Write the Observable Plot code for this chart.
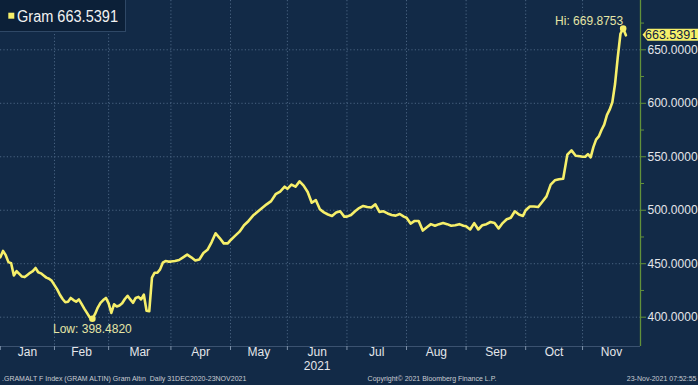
<!DOCTYPE html>
<html>
<head>
<meta charset="utf-8">
<script src="https://cdn.jsdelivr.net/npm/d3@7"></script>
<script src="https://cdn.jsdelivr.net/npm/@observablehq/plot@0.6"></script>
<style>
  html, body { margin: 0; padding: 0; background: #122a47; }
  #chart { width: 698px; height: 385px; overflow: hidden; }
  svg { display: block; }
</style>
</head>
<body>
<div id="chart"></div>
<script>
const seriesName = "Gram";
const lastValue = 663.5391;
const holidays = ["2021-01-01"];
const monthLabels = ["Jan", "Feb", "Mar", "Apr", "May", "Jun", "Jul", "Aug", "Sep", "Oct", "Nov"];
const yearLabel = "2021";
const yTicks = [400, 450, 500, 550, 600, 650];
const yMinorTicks = [425, 475, 525, 575, 625, 675];

const jan = [455, 456, 462, 458, 451.5, 450.5, 439, 443, 440.5, 438, 437.5, 439.5, 441.5, 443, 446, 442, 441, 439, 437, 436, 434];
const feb = [430, 426, 421, 417, 414, 414.5, 418, 416, 414.5, 416.6, 412.5, 408, 404, 400, 398.482, 403, 409, 413.4, 416, 418];
const mar = [413, 404, 412, 410, 411, 413, 417, 420, 416.6, 413.5, 418, 419, 416.6, 421, 406, 405.6, 437, 441.6, 441.6, 444.7, 451, 452.5, 452];
const apr = [452, 452.5, 453.5, 456, 458.5, 456, 453, 454, 460, 463, 470, 478.5, 474, 469, 469];
const may = [472, 476, 480, 486, 490, 495, 498.5, 502, 505.5, 508.5, 515, 517.5, 522];
const jun = [520, 524, 522, 527, 523, 517, 507, 509.5, 501, 498, 496, 494.7, 497.8, 499, 494];
const jul = [494, 495.5, 499, 502, 504, 503, 502.5, 505.5, 498.5, 499, 497, 495.5, 495, 496.5, 494];
const aug = [493, 487.5, 490, 490, 481, 484, 487, 485.5, 487, 488, 487, 485.5, 486, 487, 485.5];
const sep = [485, 482, 488, 482, 486, 487, 489, 488, 483, 488, 491.6, 493, 499, 496, 494.7];
const oct = [500, 503.5, 503.5, 503, 508, 513, 524, 528, 529, 529.5, 552, 556, 551, 550.5];
const nov = [550, 550, 552.5, 549.5, 559, 566, 569, 575, 580, 589, 594, 601, 618, 643, 665, 669.8753, 663.5391];
const monthly = [jan, feb, mar, apr, may, jun, jul, aug, sep, oct, nov];

const footerLeft = ".GRAMALT F Index (GRAM ALTIN) Gram Altın  Daily 31DEC2020-23NOV2021";
const footerMid = "Copyright\u00A9 2021 Bloomberg Finance L.P.";
const footerRight = "23-Nov-2021 07:52:55";

// ---- trading-day axis ----
const tradingDays = [];
for (let t = Date.UTC(2020, 11, 31); t <= Date.UTC(2021, 10, 23); t += 864e5) {
  const d = new Date(t);
  const wd = d.getUTCDay();
  const iso = d.toISOString().slice(0, 10);
  if (wd !== 0 && wd !== 6 && !holidays.includes(iso)) tradingDays.push(iso);
}
const monthStarts = [];
for (let m = 0; m < 11; m++) {
  const key = `2021-${String(m + 1).padStart(2, "0")}`;
  monthStarts.push(tradingDays.findIndex(d => d.startsWith(key)));
}
const lastIndex = tradingDays.length - 1;

const data = [];
monthly.forEach((vals, m) => {
  const s = m === 0 ? 0 : monthStarts[m];
  const e = m === 10 ? lastIndex : monthStarts[m + 1] - 1;
  const k = vals.length;
  vals.forEach((v, j) => data.push({i: s + (k === 1 ? 0 : j * (e - s) / (k - 1)), v}));
});

const xDomain = [1.07, 237.4];
const yDomain = [372.6, 696.1];

const hi = data.reduce((a, b) => (b.v > a.v ? b : a));
const lo = data.reduce((a, b) => (b.v < a.v ? b : a));

const monthMids = monthStarts.map((s, m) => {
  const a = m === 0 ? xDomain[0] : s;
  const b = m === 10 ? xDomain[1] : monthStarts[m + 1];
  return {x: (a + b) / 2, label: monthLabels[m]};
});

const YELLOW = "#f6ef6a";
const LABEL_YELLOW = "#e6e6a6";
const GREEN = "#62913a";
const GRID = "#4a6482";
const TEXT = "#e4e6ea";
const FONT = "Liberation Sans, Arial, sans-serif";

const priceTag = (index, scales, values, dim) => {
  const y = scales.y(lastValue);
  const x0 = dim.width - dim.marginRight + 2.5;
  const g = d3.create("svg:g");
  g.append("path")
    .attr("d", `M${x0},${y} L${x0 + 5},${y - 6} H${dim.width} V${y + 6} H${x0 + 5} Z`)
    .attr("fill", YELLOW);
  g.append("text")
    .attr("x", x0 + 2.5).attr("y", y + 4.3)
    .attr("text-anchor", "start")
    .attr("fill", "#0e2340").attr("font-size", 12.5).attr("font-family", FONT)
    .text(lastValue.toFixed(4));
  return g.node();
};

const legend = () => {
  const g = d3.create("svg:g");
  g.append("rect").attr("x", -1).attr("y", -1).attr("width", 126.5).attr("height", 32.5)
    .attr("fill", "#0c2038").attr("stroke", "#2f4866");
  g.append("rect").attr("x", 8.3).attr("y", 12.7).attr("width", 6).attr("height", 6).attr("fill", YELLOW);
  g.append("text").attr("x", 17).attr("y", 21.8)
    .attr("text-anchor", "start")
    .attr("fill", "#f2f2f2").attr("font-size", 16).attr("font-family", FONT)
    .attr("textLength", 101).attr("lengthAdjust", "spacingAndGlyphs")
    .text(`${seriesName} ${lastValue.toFixed(4)}`);
  return g.node();
};

const chart = Plot.plot({
  width: 698,
  height: 385,
  marginLeft: 0,
  marginRight: 58,
  marginTop: 0,
  marginBottom: 39,
  style: {background: "#122a47", color: TEXT, fontFamily: FONT, overflow: "visible"},
  x: {type: "linear", domain: xDomain, axis: null, label: null},
  y: {domain: yDomain, axis: null, label: null},
  marks: [
    Plot.gridX(monthStarts.slice(1), {stroke: GRID, strokeOpacity: 1, strokeDasharray: "1.2,2.2"}),
    Plot.gridY(yTicks, {stroke: GRID, strokeOpacity: 1, strokeDasharray: "1.2,2.2"}),
    Plot.ruleY([yDomain[0]], {stroke: "#3b5270", strokeWidth: 1}),
    Plot.axisX(monthStarts, {tickSize: 4, tickFormat: () => "", stroke: "#7f93aa", label: null}),
    Plot.text(monthMids, {x: "x", text: "label", frameAnchor: "bottom", dy: 9.5, fill: TEXT, fontSize: 12}),
    Plot.text([yearLabel], {x: monthMids[5].x, text: d => d, frameAnchor: "bottom", dy: 23.5, fill: TEXT, fontSize: 12}),
    Plot.ruleX([xDomain[1]], {stroke: GREEN, strokeWidth: 1.3, y1: yDomain[0], y2: yDomain[1]}),
    Plot.axisY(yMinorTicks, {anchor: "right", tickSize: 3, tickFormat: () => "", stroke: GREEN, label: null}),
    Plot.axisY(yTicks, {anchor: "right", tickSize: 5, tickPadding: 2, tickFormat: d => d.toFixed(4), stroke: GREEN, fill: TEXT, fontSize: 12, label: null}),
    Plot.line(data, {x: "i", y: "v", stroke: YELLOW, strokeWidth: 2.6, strokeLinejoin: "round", curve: "linear", clip: true}),
    Plot.dot([hi, lo], {x: "i", y: "v", r: 3.3, fill: YELLOW}),
    Plot.text([hi], {x: "i", y: "v", text: d => `Hi: ${d.v.toFixed(4)}`, textAnchor: "end", dx: 0, dy: -7, fill: LABEL_YELLOW, fontSize: 12}),
    Plot.text([lo], {x: "i", y: "v", text: d => `Low: ${d.v.toFixed(4)}`, textAnchor: "middle", dy: 10, fill: LABEL_YELLOW, fontSize: 12}),
    Plot.text([footerLeft], {text: d => d, frameAnchor: "bottom-left", dx: 1.5, dy: 34, textAnchor: "start", fill: "#c9ccd2", fontSize: 7}),
    Plot.text([footerMid], {text: d => d, frameAnchor: "bottom", dx: 111.5, dy: 34, textAnchor: "middle", fill: "#c9ccd2", fontSize: 7}),
    Plot.text([footerRight], {text: d => d, frameAnchor: "bottom-right", dx: 56, dy: 34, textAnchor: "end", fill: "#c9ccd2", fontSize: 7}),
    priceTag,
    legend
  ]
});
document.getElementById("chart").appendChild(chart);
</script>
</body>
</html>
